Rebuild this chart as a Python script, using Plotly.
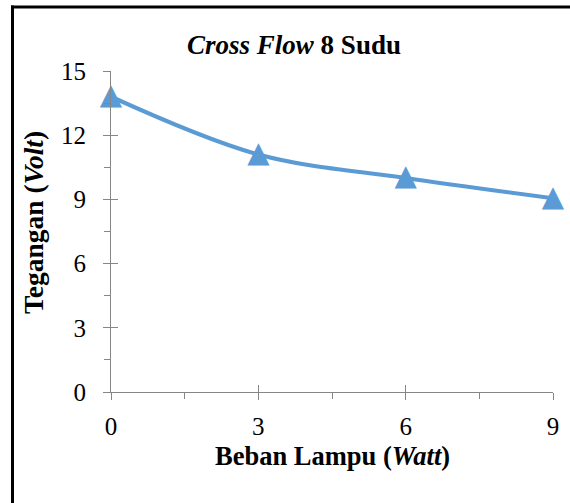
import plotly.graph_objects as go

# Data
beban = [0, 3, 6, 9]
tegangan = [13.8, 11.1, 10.0, 9.05]
x_ticks = [0, 3, 6, 9]
y_ticks = [0, 3, 6, 9, 12, 15]

W, H = 570, 503
L, R, T, B = 111, 17, 71, 111
pw, ph = W - L - R, H - T - B

def px_x(p):
    return (p - L) / pw

def px_y(p):
    return (H - B - p) / ph

FONT = "Liberation Serif"
AX = "#868686"
BLUE = "#5B9BD5"

fig = go.Figure()
fig.add_trace(go.Scatter(
    x=beban, y=tegangan, mode="lines",
    line=dict(color=BLUE, width=4, shape="spline", smoothing=1),
    cliponaxis=False, showlegend=False, hoverinfo="skip"))
fig.add_trace(go.Scatter(
    x=beban, y=tegangan, mode="text", text=["▲"] * len(beban),
    textposition="middle center",
    textfont=dict(family="DejaVu Sans", size=29, color=BLUE),
    cliponaxis=False, showlegend=False, hoverinfo="skip"))
# invisible trace on overlay axes for inward half of crossing ticks
fig.add_trace(go.Scatter(x=[0], y=[0], xaxis="x2", yaxis="y2", mode="markers",
                         marker=dict(opacity=0), showlegend=False, hoverinfo="skip"))

common = dict(showgrid=False, zeroline=False, linecolor=AX, tickcolor=AX,
              tickwidth=1, tickfont=dict(family=FONT, size=25, color="black"))
fig.update_layout(
    width=W, height=H, margin=dict(l=L, r=R, t=T, b=B),
    paper_bgcolor="white", plot_bgcolor="white",
    title=dict(text="<b><i>Cross Flow</i> 8 Sudu</b>", x=294 / W, xanchor="center",
               y=1 - 45 / H, yanchor="middle", yref="container",
               font=dict(family=FONT, size=27, color="black")),
    xaxis=dict(range=[0, 9], tickvals=x_ticks, showline=True, linewidth=1,
               ticks="outside", ticklen=7, ticklabelstandoff=5,
               minor=dict(dtick=1.5, tick0=0, ticks="outside", ticklen=6, tickcolor=AX),
               **common),
    yaxis=dict(range=[0, 15], tickvals=y_ticks, showline=True, linewidth=1,
               ticks="outside", ticklen=7, ticklabelstandoff=12,
               minor=dict(dtick=1.5, tick0=0, ticks="outside", ticklen=6, tickcolor=AX),
               **common),
    xaxis2=dict(range=[0, 9], overlaying="x", anchor="y", side="bottom", tickvals=x_ticks,
                ticks="inside", ticklen=7, tickcolor=AX, showticklabels=False,
                showgrid=False, zeroline=False, showline=False),
    yaxis2=dict(range=[0, 15], overlaying="y", anchor="x", side="left", tickvals=y_ticks,
                ticks="inside", ticklen=7, tickcolor=AX, showticklabels=False,
                showgrid=False, zeroline=False, showline=False),
    annotations=[
        dict(text="<b>Beban Lampu (<i>Watt</i>)</b>", xref="paper", yref="paper",
             x=0.5, y=px_y(456), xanchor="center", yanchor="middle", showarrow=False,
             font=dict(family=FONT, size=26.5, color="black")),
        dict(text="<b>Tegangan (<i>Volt</i>)</b>", xref="paper", yref="paper",
             x=px_x(33), y=px_y(223), xanchor="center", yanchor="middle", showarrow=False,
             textangle=-90, font=dict(family=FONT, size=27.5, color="black")),
    ],
    shapes=[
        dict(type="line", xref="paper", yref="paper", x0=px_x(12.5), x1=px_x(12.5),
             y0=px_y(5.5), y1=px_y(520), line=dict(color="black", width=3)),
        dict(type="line", xref="paper", yref="paper", x0=px_x(11), x1=px_x(600),
             y0=px_y(7), y1=px_y(7), line=dict(color="black", width=3)),
    ],
)
fig.write_html("out.html")
